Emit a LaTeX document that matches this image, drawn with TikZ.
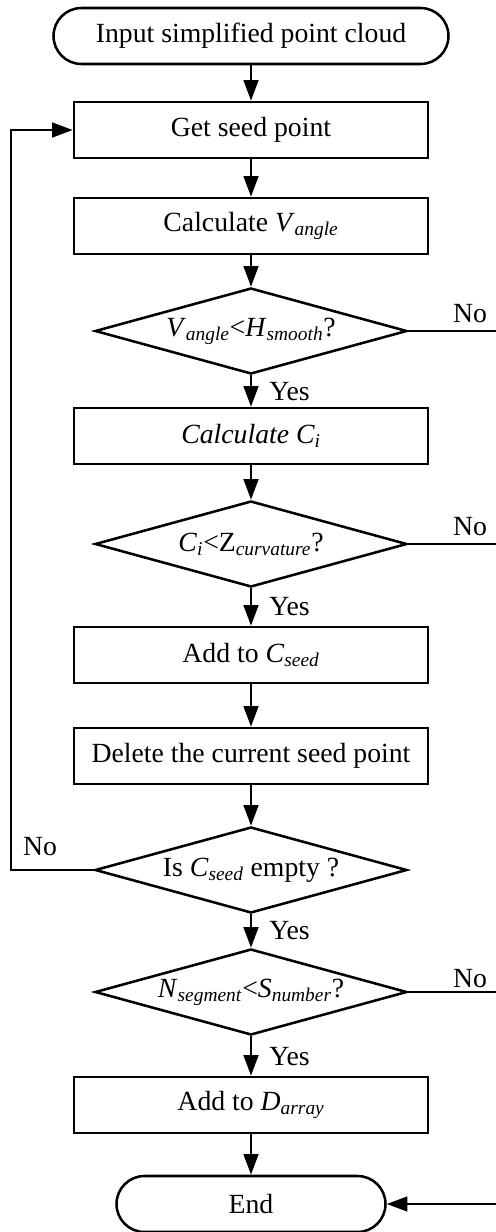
\documentclass[tikz,border=0pt]{standalone}
\usepackage{fontspec}
\setmainfont{Liberation Serif}
\usetikzlibrary{shapes.geometric,arrows.meta}
\newcommand{\vs}[2]{\textit{#1}\textsubscript{\textit{#2}}}
\newcommand{\us}[2]{#1\textsubscript{\textit{#2}}}
\begin{document}
\begin{tikzpicture}[x=0.75pt,y=-0.75pt,
  every node/.style={font=\fontsize{20.8}{23}\selectfont},
  conn/.style={line width=1.9pt},
  arr/.style={conn,-{Triangle[length=15.5pt,width=11pt]}},
  term/.style={draw,line width=1.9pt,rounded corners=21pt,minimum width=201.75pt,minimum height=42pt,inner sep=0pt},
  procbox/.style={draw,line width=1.9pt,minimum width=265.5pt,minimum height=42pt,inner sep=0pt},
  decision/.style={draw,diamond,shape aspect=3.63,line width=1.9pt,minimum width=234pt,minimum height=64.5pt,inner sep=0pt},
  lbl/.style={inner sep=0pt}]
\useasboundingbox (0,0) rectangle (496,1232);
\node[term,minimum width=296.25pt] (start) at (251,36) {Input simplified point cloud};
\node[procbox] (b1) at (251,130) {Get seed point};
\node[procbox] (b2) at (251,226) {Calculate \vs{V}{angle}};
\node[decision] (d1) at (251,331) {\vs{V}{angle}<\vs{H}{smooth}?};
\node[procbox] (b3) at (251,436) {\textit{Calculate C\textsubscript{i}}};
\node[decision] (d2) at (251,544) {\vs{C}{i}<\us{Z}{curvature}?};
\node[procbox] (b4) at (251,655) {Add to \vs{C}{seed}};
\node[procbox] (b5) at (251,756) {Delete the current seed point};
\node[decision] (d3) at (251,870) {Is \vs{C}{seed} empty ?};
\node[decision] (d4) at (251,992) {\vs{N}{segment}<\vs{S}{number}?};
\node[procbox] (b6) at (251,1105) {Add to \vs{D}{array}};
\node[term] (end) at (251,1204) {End};
\coordinate (lx) at (11,0);
\coordinate (rx) at (502,0);
\draw[arr] (start) -- (b1);
\draw[arr] (b1) -- (b2);
\draw[arr] (b2) -- (d1);
\draw[arr] (d1) -- (b3);
\draw[arr] (b3) -- (d2);
\draw[arr] (d2) -- (b4);
\draw[arr] (b4) -- (b5);
\draw[arr] (b5) -- (d3);
\draw[arr] (d3) -- (d4);
\draw[arr] (d4) -- (b6);
\draw[arr] (b6) -- (end);
\draw[arr] (d3.west) -- (d3.west -| lx) |- (b1.west);
\draw[arr] (d1.east) -- (d1.east -| rx) |- (end.east);
\draw[conn] (d2.east) -- (d2.east -| rx);
\draw[conn] (d4.east) -- (d4.east -| rx);
\node[lbl] (n1) at (470,314) {No};
\node[lbl] (n2) at (470,527) {No};
\node[lbl] (n3) at (470,979) {No};
\node[lbl] (n4) at (40,847) {No};
\node[lbl,anchor=west] (y1) at (269,392) {Yes};
\node[lbl,anchor=west] (y2) at (269,607) {Yes};
\node[lbl,anchor=west] (y3) at (269,931) {Yes};
\node[lbl,anchor=west] (y4) at (269,1057) {Yes};
\end{tikzpicture}
\end{document}
